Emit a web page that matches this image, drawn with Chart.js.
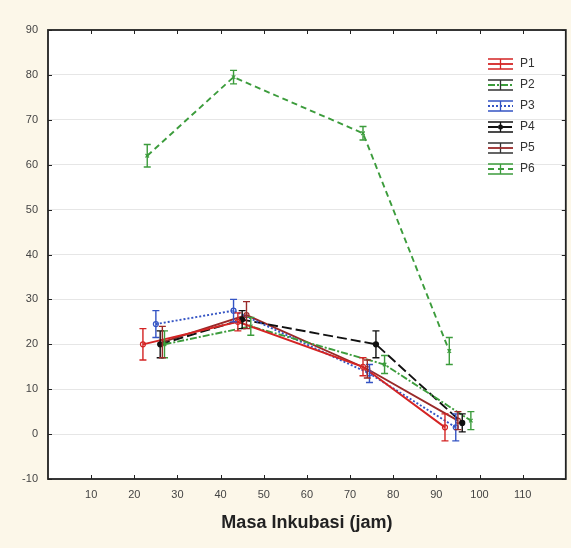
<!DOCTYPE html>
<html>
<head>
<meta charset="utf-8">
<script src="https://cdn.jsdelivr.net/npm/chart.js@4"></script>
<style>
  html, body { margin: 0; padding: 0; background: #fcf7e9; }
  #wrap { width: 571px; height: 548px; }
</style>
</head>
<body>
<div id="wrap"><canvas id="chart" width="571" height="548"></canvas></div>
<script>
// data (x = jam, y = value, err = half-length of error bar)
const seriesNames = ['P1', 'P2', 'P3', 'P4', 'P5', 'P6'];

const xP1 = [22, 44, 73, 92];
const yP1 = [20, 25, 15, 1.5];
const errP1 = [3.5, 2, 2, 3];

const xP2 = [27, 47, 78, 98];
const yP2 = [20, 24, 15.5, 3];
const errP2 = [3, 2, 2, 2];

const xP3 = [25, 43, 74.5, 94.5];
const yP3 = [24.5, 27.5, 13.5, 1.5];
const errP3 = [3, 2.5, 2, 3];

const xP4 = [26, 45, 76, 96];
const yP4 = [20, 25.5, 20, 2.5];
const errP4 = [3, 2, 3, 2];

const xP5 = [26.5, 46, 74, 95];
const yP5 = [20.5, 26.5, 14.5, 3];
const errP5 = [3.5, 3, 2, 2];

const xP6 = [23, 43, 73, 93];
const yP6 = [62, 79.5, 67, 18.5];
const errP6 = [2.5, 1.5, 1.5, 3];

const xTicks = [10, 20, 30, 40, 50, 60, 70, 80, 90, 100, 110];
const yTicks = [-10, 0, 10, 20, 30, 40, 50, 60, 70, 80, 90];

const allX = [xP1, xP2, xP3, xP4, xP5, xP6];
const allY = [yP1, yP2, yP3, yP4, yP5, yP6];
const allErr = [errP1, errP2, errP3, errP4, errP5, errP6];

const colors = ['#d42424', '#3c9c3c', '#3454c4', '#111111', '#9a2a2a', '#3c9c3c'];
const dashes = [[], [7, 2, 2, 2], [2, 2], [10, 4], [], [6, 4]];
const pointStyles = ['circle', 'crossRot', 'circle', 'circle', 'circle', 'crossRot'];

function toPoints(xs, ys) {
    return xs.map((x, i) => ({ x: x, y: ys[i] }));
}

const datasets = seriesNames.map((name, i) => ({
    label: name,
    data: toPoints(allX[i], allY[i]),
    showLine: true,
    borderColor: colors[i],
    backgroundColor: i === 3 ? '#111111' : 'rgba(255,255,255,0)',
    borderWidth: 1.9,
    borderDash: dashes[i],
    pointStyle: pointStyles[i],
    pointRadius: 2.5,
    pointBorderWidth: 1.2,
    pointBorderColor: colors[i],
    pointBackgroundColor: i === 3 ? '#111111' : 'rgba(255,255,255,0)',
    tension: 0
}));

// white plot area, frame, inner tick marks, error bars and legend
const decorPlugin = {
    id: 'decor',
    beforeDraw(chart) {
        const a = chart.chartArea;
        const ctx = chart.ctx;
        ctx.save();
        ctx.fillStyle = '#ffffff';
        ctx.fillRect(a.left, a.top, a.right - a.left, a.bottom - a.top);
        ctx.restore();
    },
    afterDatasetsDraw(chart) {
        const ctx = chart.ctx;
        const xs = chart.scales.x, ys = chart.scales.y;
        ctx.save();
        allErr.forEach((errs, i) => {
            ctx.strokeStyle = colors[i];
            ctx.lineWidth = 1.4;
            ctx.setLineDash([]);
            errs.forEach((e, j) => {
                const px = xs.getPixelForValue(allX[i][j]);
                const top = ys.getPixelForValue(allY[i][j] + e);
                const bot = ys.getPixelForValue(allY[i][j] - e);
                ctx.beginPath();
                ctx.moveTo(px, top); ctx.lineTo(px, bot);
                ctx.moveTo(px - 3.5, top); ctx.lineTo(px + 3.5, top);
                ctx.moveTo(px - 3.5, bot); ctx.lineTo(px + 3.5, bot);
                ctx.stroke();
            });
        });
        ctx.restore();
    },
    afterDraw(chart) {
        const a = chart.chartArea;
        const ctx = chart.ctx;
        const xs = chart.scales.x, ys = chart.scales.y;
        ctx.save();
        ctx.strokeStyle = '#222';
        ctx.lineWidth = 1.8;
        ctx.strokeRect(a.left, a.top, a.right - a.left, a.bottom - a.top);
        ctx.lineWidth = 1;
        ctx.beginPath();
        xTicks.forEach(v => {
            const px = Math.round(xs.getPixelForValue(v)) + 0.5;
            ctx.moveTo(px, a.bottom); ctx.lineTo(px, a.bottom - 4);
            ctx.moveTo(px, a.top); ctx.lineTo(px, a.top + 4);
        });
        yTicks.forEach(v => {
            const py = Math.round(ys.getPixelForValue(v)) + 0.5;
            ctx.moveTo(a.left, py); ctx.lineTo(a.left + 4, py);
            ctx.moveTo(a.right, py); ctx.lineTo(a.right - 4, py);
        });
        ctx.stroke();

        // legend
        const lx = 488, lw = 25, ly0 = 64, step = 21;
        ctx.font = '12px "Liberation Sans", Arial, sans-serif';
        ctx.textBaseline = 'middle';
        seriesNames.forEach((name, i) => {
            const cy = ly0 + i * step;
            ctx.strokeStyle = i === 1 || i === 4 ? '#333' : colors[i];
            ctx.lineWidth = 1.3;
            ctx.setLineDash([]);
            ctx.beginPath();
            ctx.moveTo(lx, cy - 5); ctx.lineTo(lx + lw, cy - 5);
            ctx.moveTo(lx, cy + 5); ctx.lineTo(lx + lw, cy + 5);
            ctx.moveTo(lx + lw / 2, cy - 5); ctx.lineTo(lx + lw / 2, cy + 5);
            ctx.stroke();
            ctx.strokeStyle = colors[i];
            ctx.setLineDash(dashes[i]);
            ctx.lineWidth = 1.8;
            ctx.beginPath();
            ctx.moveTo(lx, cy); ctx.lineTo(lx + lw, cy);
            ctx.stroke();
            ctx.setLineDash([]);
            if (i === 3) {
                ctx.fillStyle = '#111';
                ctx.beginPath(); ctx.arc(lx + lw / 2, cy, 2.5, 0, Math.PI * 2); ctx.fill();
            }
            ctx.fillStyle = '#333';
            ctx.fillText(name, lx + lw + 7, cy);
        });
        ctx.restore();
    }
};

const chart = new Chart(document.getElementById('chart').getContext('2d'), {
    type: 'scatter',
    data: { datasets: datasets },
    plugins: [decorPlugin],
    options: {
        responsive: false,
        animation: false,
        layout: { padding: { top: 30, right: 4, left: 0, bottom: 0 } },
        plugins: {
            legend: { display: false },
            tooltip: { enabled: false }
        },
        scales: {
            x: {
                type: 'linear',
                min: 0,
                max: 120,
                afterFit: s => { s.height = 69; },
                afterBuildTicks: s => { s.ticks = xTicks.map(v => ({ value: v })); },
                grid: { display: false, drawTicks: false },
                border: { display: false },
                ticks: {
                    padding: 9,
                    color: '#444',
                    font: { family: '"Liberation Sans", Arial, sans-serif', size: 11 }
                },
                title: {
                    display: true,
                    text: 'Masa Inkubasi (jam)',
                    color: '#222',
                    font: { family: '"Liberation Sans", Arial, sans-serif', size: 18, weight: 'bold' },
                    padding: { top: 6, bottom: 14 }
                }
            },
            y: {
                type: 'linear',
                min: -10,
                max: 90,
                afterFit: s => { s.width = 48; },
                afterBuildTicks: s => { s.ticks = yTicks.map(v => ({ value: v })); },
                grid: { color: '#e6e6e6', lineWidth: 1, drawTicks: false },
                border: { display: false },
                ticks: {
                    padding: 10,
                    color: '#444',
                    font: { family: '"Liberation Sans", Arial, sans-serif', size: 11 }
                }
            }
        }
    }
});
</script>
</body>
</html>
